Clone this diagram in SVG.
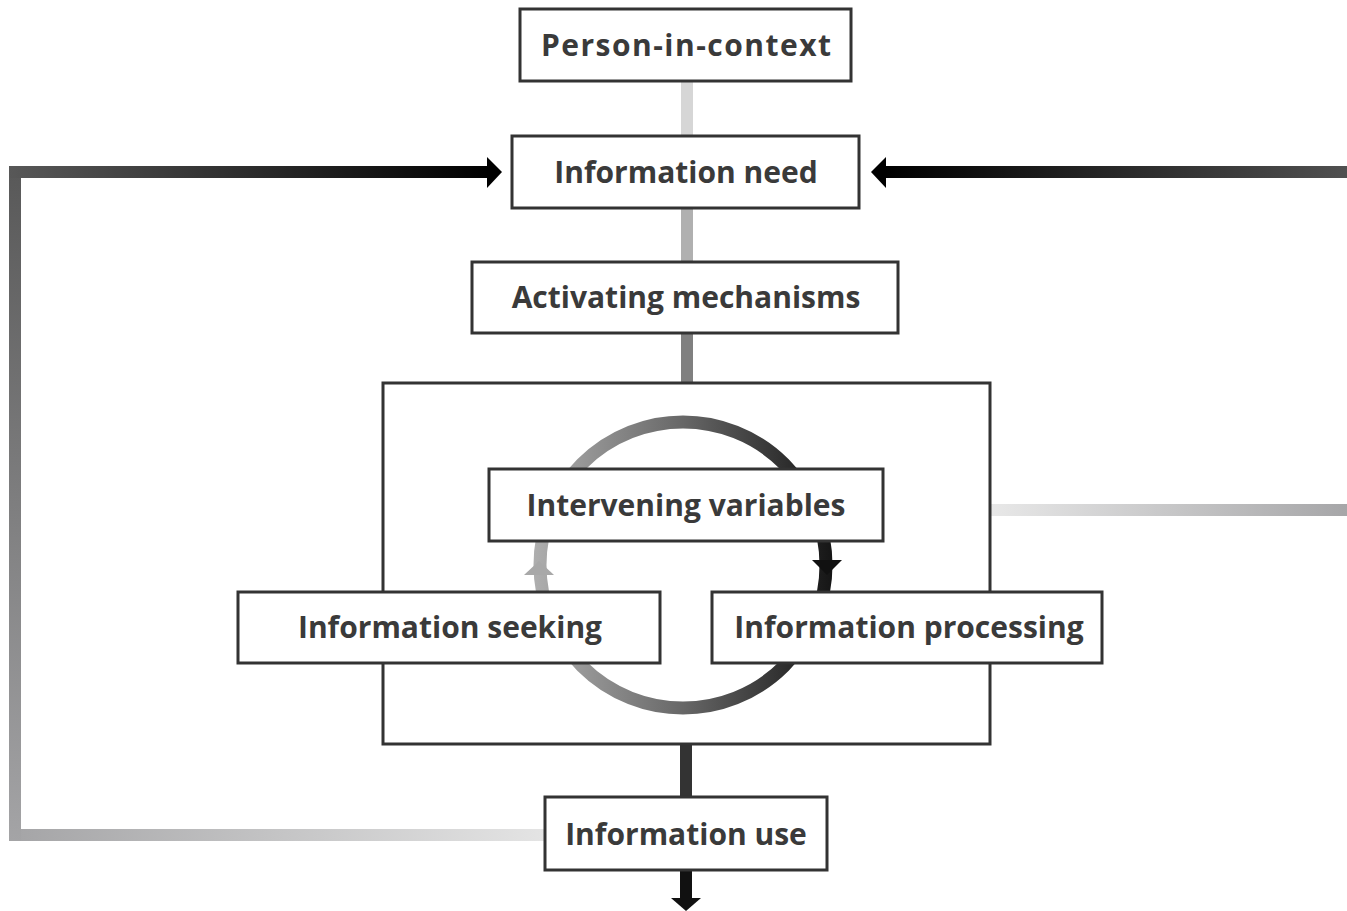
<svg xmlns="http://www.w3.org/2000/svg" width="1347" height="911" viewBox="0 0 1347 911">
<defs>
<style>
.box{fill:#fff;stroke:#333;stroke-width:3}
.frame{fill:none;stroke:#333;stroke-width:3}
.lbl{font-family:"Open Sans","Liberation Sans",sans-serif;font-weight:700;font-size:30px;fill:#3a3a3a;text-anchor:middle}
</style>
<linearGradient id="gBot" gradientUnits="userSpaceOnUse" x1="9" y1="0" x2="545" y2="0"><stop offset="0" stop-color="#a4a4a6"/><stop offset="1" stop-color="#e4e4e4"/></linearGradient>
<linearGradient id="gLeft" gradientUnits="userSpaceOnUse" x1="0" y1="166" x2="0" y2="841"><stop offset="0" stop-color="#585858"/><stop offset="1" stop-color="#a4a4a6"/></linearGradient>
<linearGradient id="gTopL" gradientUnits="userSpaceOnUse" x1="9" y1="0" x2="490" y2="0"><stop offset="0" stop-color="#585858"/><stop offset="1" stop-color="#000"/></linearGradient>
<linearGradient id="gTopR" gradientUnits="userSpaceOnUse" x1="885" y1="0" x2="1347" y2="0"><stop offset="0" stop-color="#000"/><stop offset="1" stop-color="#505050"/></linearGradient>
<linearGradient id="gMidR" gradientUnits="userSpaceOnUse" x1="991" y1="0" x2="1347" y2="0"><stop offset="0" stop-color="#e8e8e8"/><stop offset="1" stop-color="#a6a6a8"/></linearGradient>
<linearGradient id="gCirc" gradientUnits="userSpaceOnUse" x1="530" y1="0" x2="840" y2="0"><stop offset="0" stop-color="#b0b0b0"/><stop offset="0.5" stop-color="#666"/><stop offset="1" stop-color="#111"/></linearGradient>
</defs>
<g id="connectors">
<rect x="9" y="829" width="536" height="12" fill="url(#gBot)"/>
<rect x="9" y="166" width="12" height="675" fill="url(#gLeft)"/>
<rect x="9" y="166" width="481" height="12" fill="url(#gTopL)"/>
<polygon points="487,157 502,172 487,188" fill="#000"/>
<rect x="885" y="166" width="462" height="12" fill="url(#gTopR)"/>
<polygon points="886,157 871,172 886,188" fill="#000"/>
<rect x="991" y="504" width="356" height="12" fill="url(#gMidR)"/>
<rect x="681" y="81" width="12" height="55" fill="#d6d6d6"/>
<rect x="681" y="208" width="12" height="54" fill="#b0b0b0"/>
<rect x="681" y="333" width="12" height="50" fill="#808080"/>
<rect x="680" y="744" width="12" height="53" fill="#333"/>
<rect x="680" y="870" width="12" height="29" fill="#111"/>
<polygon points="671,898 701,898 686,911" fill="#111"/>
<circle cx="683" cy="565" r="143" fill="none" stroke="url(#gCirc)" stroke-width="13"/>
<polygon points="524,575 539,561 554,575" fill="#a8a8a8"/>
<polygon points="812,560 842,560 827,575" fill="#111"/>
</g>
<g id="frame"><rect class="frame" x="383" y="383" width="607" height="361"/></g>
<g id="person-in-context"><rect class="box" x="520" y="9" width="331" height="72"/><text class="lbl" x="686" y="56" textLength="290" lengthAdjust="spacing">Person-in-context</text></g>
<g id="information-need"><rect class="box" x="512" y="136" width="347" height="72"/><text class="lbl" x="686" y="183">Information need</text></g>
<g id="activating-mechanisms"><rect class="box" x="472" y="262" width="426" height="71"/><text class="lbl" x="686" y="308">Activating mechanisms</text></g>
<g id="intervening-variables"><rect class="box" x="489" y="469" width="394" height="72"/><text class="lbl" x="686" y="516">Intervening variables</text></g>
<g id="information-seeking"><rect class="box" x="238" y="592" width="422" height="71"/><text class="lbl" x="450" y="638">Information seeking</text></g>
<g id="information-processing"><rect class="box" x="712" y="592" width="390" height="71"/><text class="lbl" x="909" y="638">Information processing</text></g>
<g id="information-use"><rect class="box" x="545" y="797" width="282" height="73"/><text class="lbl" x="686" y="845">Information use</text></g>
</svg>
